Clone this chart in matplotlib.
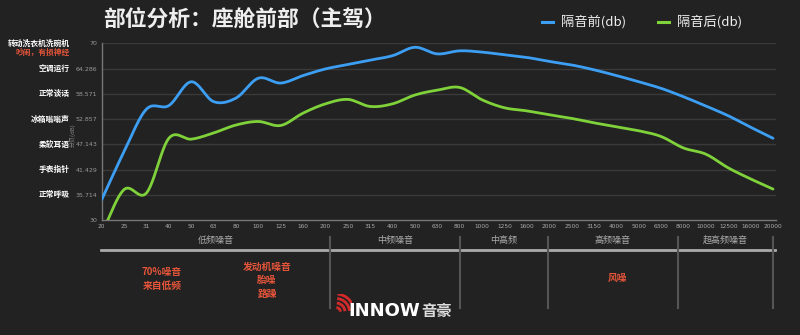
import matplotlib
matplotlib.use("Agg")
import matplotlib.pyplot as plt
import numpy as np
from matplotlib.lines import Line2D
from matplotlib.patches import Arc

plt.rcParams['font.family'] = ['Noto Sans CJK SC', 'DejaVu Sans']

# ---------------------------------------------------------------------------
# Data
# ---------------------------------------------------------------------------
freqs = ["20", "25", "31", "40", "50", "63", "80", "100", "125", "160", "200",
         "250", "315", "400", "500", "630", "800", "1000", "1250", "1600", "2000",
         "2500", "3150", "4000", "5000", "6300", "8000", "10000", "12500",
         "16000", "20000"]
before_db = [34.6, 45.5, 55.1, 55.9, 61.3, 56.8, 57.6, 62.1, 61.0, 62.7, 64.2,
             65.2, 66.2, 67.2, 69.1, 67.6, 68.3, 68.0, 67.4, 66.8, 65.9,
             65.1, 64.0, 62.7, 61.3, 59.8, 57.9, 55.8, 53.6, 51.0, 48.5]
after_db = [27.0, 36.9, 36.1, 48.5, 48.3, 49.7, 51.5, 52.3, 51.4, 54.2, 56.3,
            57.3, 55.7, 56.3, 58.3, 59.4, 60.0, 57.2, 55.4, 54.7, 53.8,
            53.0, 52.0, 51.1, 50.2, 48.9, 46.3, 44.9, 41.8, 39.3, 37.0]
series_names = ["隔音前(db)", "隔音后(db)"]

y_ticks = [30, 35.714, 41.429, 47.143, 52.857, 58.571, 64.286, 70]
y_ref_labels = ["", "正常呼吸", "手表指针", "柔软耳语", "冰箱嗡嗡声",
                "正常谈话", "空调运行", "转动洗衣机洗碗机"]

bands = ["低频噪音", "中频噪音", "中高频", "高频噪音", "超高频噪音"]
band_edges = [0, 10.2, 16.0, 19.93, 25.74, 30.0]   # in category index units

title = "部位分析：座舱前部（主驾）"

# ---------------------------------------------------------------------------
BG = "#222222"
BLUE = "#3d9ff3"
GREEN = "#80d23a"
RED = "#e5553a"
W, H = 800, 335


def fx(px):
    return px / W


def fy(py):
    return 1 - py / H


def smooth(y, n=12):
    """Catmull-Rom spline through points (drawing only)."""
    y = np.asarray(y, float)
    p = np.concatenate([[2 * y[0] - y[1]], y, [2 * y[-1] - y[-2]]])
    xs, ys = [], []
    t = np.linspace(0, 1, n, endpoint=False)
    for i in range(len(y) - 1):
        p0, p1, p2, p3 = p[i], p[i + 1], p[i + 2], p[i + 3]
        seg = 0.5 * ((2 * p1) + (-p0 + p2) * t +
                     (2 * p0 - 5 * p1 + 4 * p2 - p3) * t ** 2 +
                     (-p0 + 3 * p1 - 3 * p2 + p3) * t ** 3)
        xs.append(i + t)
        ys.append(seg)
    xs.append([len(y) - 1])
    ys.append([y[-1]])
    return np.concatenate(xs), np.concatenate(ys)


fig = plt.figure(figsize=(8, 3.35), dpi=100, facecolor=BG)
ax = fig.add_axes([fx(101.7), fy(220), fx(775.7) - fx(101.7), fy(43.3) - fy(220)])
ax.set_facecolor(BG)

idx = np.arange(len(freqs))
ax.set_xlim(0, 30.12)
ax.set_ylim(30, 70)

for v in y_ticks[1:]:
    ax.axhline(v, color="#3a3a3a", lw=1.0, zorder=1)

for vals, col in [(before_db, BLUE), (after_db, GREEN)]:
    sx, sy = smooth(vals)
    ax.plot(sx, sy, color=col, lw=2.0, zorder=3, solid_capstyle="round")

ax.set_xticks(idx)
ax.set_xticklabels(freqs, fontsize=4.2, color="#aaaaaa", family="DejaVu Sans")
ax.set_yticks(y_ticks)
ax.set_yticklabels([f"{v:g}" for v in y_ticks], fontsize=4.5, color="#999999",
                   family="DejaVu Sans")
ax.tick_params(length=0, pad=3)
for s in ["top", "right"]:
    ax.spines[s].set_visible(False)
for s in ["left", "bottom"]:
    ax.spines[s].set_color("#777777")
    ax.spines[s].set_linewidth(1.0)

fig.text(fx(73), fy(135), "分贝(dB)", rotation=90, ha="center", va="center",
         fontsize=4.3, color="#888888")

# reference labels on the left
for v, lab in zip(y_ticks, y_ref_labels):
    if lab:
        ax.text(-32 / 22.38, v, lab, transform=ax.transData, ha="right",
                va="center", fontsize=5.6, color="white", fontweight="bold",
                clip_on=False)
fig.text(fx(70), fy(52.5), "吵闹，有损神经", ha="right", va="center",
         fontsize=5.6, color=RED, fontweight="bold")

# title
fig.text(fx(103), fy(20), title, ha="left", va="center", fontsize=15.7,
         color="#eeeeee", fontweight="bold")

# legend
for (x0, name, col) in [(542, series_names[0], BLUE), (658, series_names[1], GREEN)]:
    fig.add_artist(Line2D([fx(x0), fx(x0 + 11)], [fy(22), fy(22)], color=col,
                          lw=2.2, transform=fig.transFigure))
    fig.text(fx(x0 + 19), fy(22), name, ha="left", va="center", fontsize=9.5,
             color="#eeeeee")

# frequency bands under the chart
def ix2px(i):
    return 101.7 + 22.38 * i

fig.add_artist(Line2D([fx(101), fx(775)], [fy(250), fy(250)], color="#aaaaaa",
                      lw=2.0, transform=fig.transFigure))
for e in band_edges[1:]:
    xp = ix2px(e)
    fig.add_artist(Line2D([fx(xp), fx(xp)], [fy(237), fy(308)], color="#555555",
                          lw=1.5, transform=fig.transFigure))
for k, name in enumerate(bands):
    xm = (ix2px(band_edges[k]) + ix2px(band_edges[k + 1])) / 2
    fig.text(fx(xm), fy(240.5), name, ha="center", va="center", fontsize=6.5,
             color="#aaaaaa")

# notes
fig.text(fx(162), fy(279), "70%噪音\n来自低频", ha="center", va="center",
         fontsize=7, color=RED, fontweight="bold", linespacing=1.45)
fig.text(fx(267), fy(280), "发动机噪音\n胎噪\n路躁", ha="center", va="center",
         fontsize=7, color=RED, fontweight="bold", linespacing=1.45)
fig.text(fx(617), fy(278), "风噪", ha="center", va="center",
         fontsize=7, color=RED, fontweight="bold")

# logo
lax = fig.add_axes([fx(332), fy(314), fx(20), fy(0) - fy(20)])
lax.set_xlim(0, 20)
lax.set_ylim(0, 20)
lax.axis("off")
for r in [5, 10, 15, 20]:
    lax.add_patch(Arc((4, 2), 2 * r * 0.9, 2 * r * 0.9, theta1=5, theta2=85,
                      color="#d42a2a", lw=2.0))
fig.text(fx(348), fy(311), "INNOW", ha="left", va="center", fontsize=13,
         color="white", fontweight="bold", family="DejaVu Sans")
fig.text(fx(421), fy(311), "音豪", ha="left", va="center", fontsize=11,
         color="#dddddd", fontweight="bold")

fig.savefig("out.png", dpi=100, facecolor=BG)
